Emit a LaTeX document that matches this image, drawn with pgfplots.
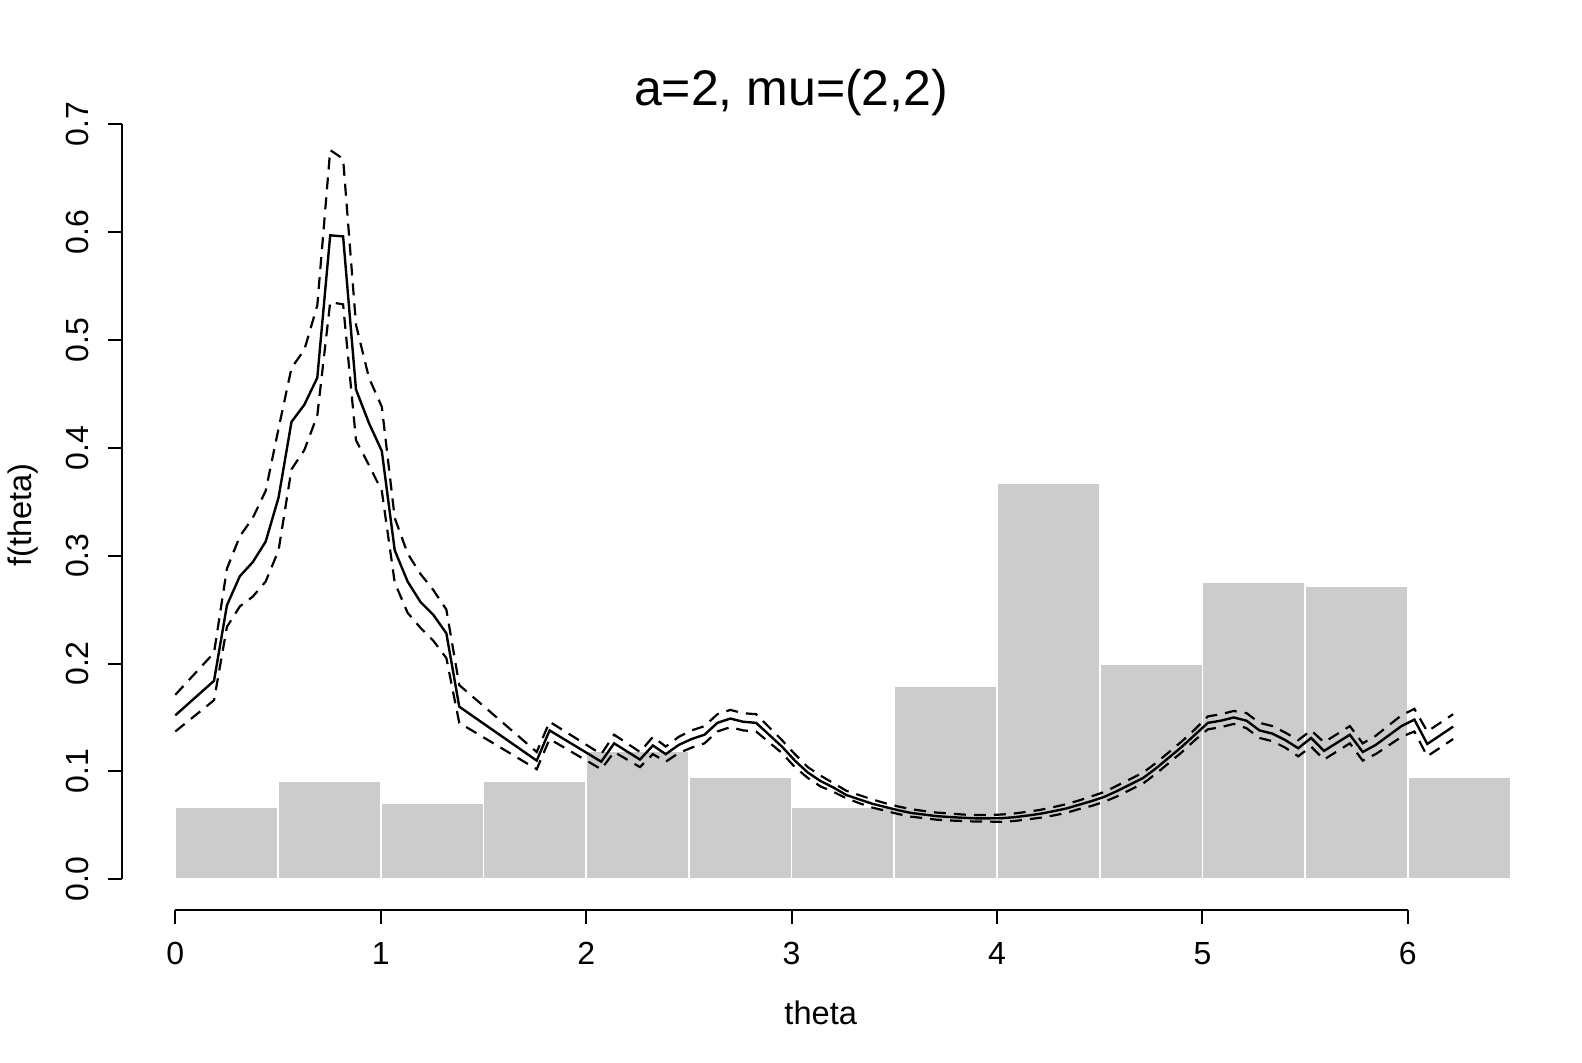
\documentclass[border=0pt]{standalone}
\usepackage{pgfplots}
\pgfplotsset{compat=1.18}
\usepackage{fontspec}
\setmainfont{Liberation Sans}
\definecolor{histgray}{HTML}{CCCCCC}
\begin{document}
\begin{tikzpicture}
\useasboundingbox (0,0) rectangle (791pt,531.5pt);
\begin{axis}[
  at={(60.85pt,76.5pt)}, anchor=south west,
  scale only axis, width=697.9pt, height=414.45pt,
  xmin=-0.261, xmax=6.534, ymin=-0.0285, ymax=0.74,
  clip=false,
  axis x line*=bottom, axis y line*=left,
  axis line style={draw=none,-},
  tick align=outside, major tick length=7pt,
  tick style={black, line width=1pt},
  xtick={0,1,2,3,4,5,6},
  ytick={0,0.1,0.2,0.3,0.4,0.5,0.6,0.7},
  /pgf/number format/assume math mode=true,
  every tick label/.append style={font=\fontsize{16}{19}\selectfont},
  xticklabel style={anchor=base},
  xticklabel shift=20.5pt,
  yticklabel style={rotate=90, anchor=base, /pgf/number format/.cd, fixed, fixed zerofill, precision=1},
  yticklabel shift=9.35pt,
  title={a=2, mu=(2,2)},
  title style={at={(axis description cs:0.4796,0.9555)}, anchor=base, font=\fontsize{25}{29}\selectfont},
  xlabel={theta},
  xlabel style={at={(axis description cs:0.5008,-0.1383)}, anchor=base, font=\fontsize{16.3}{19}\selectfont},
  ylabel={f(theta)},
  ylabel style={at={(axis description cs:-0.0645,0.4765)}, anchor=base, rotate=0, font=\fontsize{16.3}{19}\selectfont},
]
% histogram
\addplot[ybar interval, fill=histgray, draw=white, line width=0.8pt] coordinates {
(0,0.0668) (0.5,0.0906) (1,0.0709) (1.5,0.0906) (2,0.1187) (2.5,0.0946) (3,0.0666)
(3.5,0.1794) (4,0.3673) (4.5,0.199) (5,0.2757) (5.5,0.272) (6,0.0946) (6.5,0)
};
% estimate
\addplot[black, line width=1.2pt] coordinates {
(0,0.152) (0.1885,0.184) (0.2513,0.254) (0.3142,0.281) (0.3770,0.294) (0.4398,0.313)
(0.5027,0.354) (0.5655,0.424) (0.6283,0.440) (0.6912,0.465) (0.7540,0.597) (0.8168,0.596)
(0.8796,0.454) (0.9425,0.423) (1.0053,0.397) (1.0681,0.305) (1.1310,0.276) (1.1938,0.257)
(1.2566,0.245) (1.3195,0.228) (1.3823,0.160) (1.7593,0.110) (1.8221,0.138) (2.0735,0.109)
(2.1363,0.126) (2.2619,0.111) (2.3248,0.124) (2.3876,0.116) (2.4504,0.1245) (2.5133,0.130)
(2.5761,0.134) (2.6389,0.145) (2.7018,0.149) (2.7646,0.146) (2.8274,0.145) (2.8903,0.134)
(2.9531,0.123) (3.0159,0.110) (3.0788,0.099) (3.1416,0.091) (3.2044,0.085) (3.2673,0.078)
(3.3301,0.074) (3.3929,0.070) (3.4558,0.067) (3.5186,0.064) (3.5814,0.0615) (3.6442,0.060)
(3.7071,0.0585) (3.7699,0.0577) (3.8327,0.057) (3.8956,0.0565) (3.9584,0.0565) (4.0212,0.0566)
(4.0841,0.0575) (4.1469,0.059) (4.2097,0.0607) (4.2726,0.063) (4.3354,0.0655) (4.3982,0.069)
(4.4611,0.0725) (4.5239,0.0765) (4.5867,0.082) (4.6496,0.088) (4.7124,0.094) (4.7752,0.103)
(4.8381,0.113) (4.9009,0.123) (4.9637,0.134) (5.0265,0.145) (5.0894,0.147) (5.1522,0.150)
(5.2150,0.147) (5.2779,0.138) (5.3407,0.135) (5.4035,0.129) (5.4664,0.1215) (5.5292,0.131)
(5.5920,0.119) (5.7177,0.134) (5.7805,0.118) (5.8434,0.1245) (5.9690,0.142) (6.0319,0.148)
(6.0947,0.1254) (6.2204,0.1415)
};
% upper band
\addplot[black, line width=1.1pt, dash pattern=on 6pt off 4pt] coordinates {
(0,0.171) (0.1885,0.210) (0.2513,0.288) (0.3142,0.318) (0.3770,0.335) (0.4398,0.360)
(0.5027,0.418) (0.5655,0.474) (0.6283,0.491) (0.6912,0.532) (0.7540,0.676) (0.8168,0.668)
(0.8796,0.514) (0.9425,0.465) (1.0053,0.438) (1.0681,0.335) (1.1310,0.302) (1.1938,0.283)
(1.2566,0.268) (1.3195,0.250) (1.3823,0.180) (1.7593,0.118) (1.8221,0.146) (2.0735,0.116)
(2.1363,0.134) (2.2619,0.118) (2.3248,0.132) (2.3876,0.123) (2.4504,0.132) (2.5133,0.138)
(2.5761,0.142) (2.6389,0.153) (2.7018,0.157) (2.7646,0.154) (2.8274,0.153) (2.8903,0.141)
(2.9531,0.129) (3.0159,0.116) (3.0788,0.104) (3.1416,0.096) (3.2044,0.089) (3.2673,0.082)
(3.3301,0.078) (3.3929,0.074) (3.4558,0.0705) (3.5186,0.0675) (3.5814,0.065) (3.6442,0.0633)
(3.7071,0.0618) (3.7699,0.061) (3.8327,0.060) (3.8956,0.0595) (3.9584,0.0595) (4.0212,0.060)
(4.0841,0.061) (4.1469,0.0625) (4.2097,0.0643) (4.2726,0.0668) (4.3354,0.0695) (4.3982,0.073)
(4.4611,0.077) (4.5239,0.081) (4.5867,0.087) (4.6496,0.093) (4.7124,0.099) (4.7752,0.108)
(4.8381,0.118) (4.9009,0.128) (4.9637,0.139) (5.0265,0.151) (5.0894,0.153) (5.1522,0.156)
(5.2150,0.154) (5.2779,0.145) (5.3407,0.142) (5.4035,0.136) (5.4664,0.129) (5.5292,0.138)
(5.5920,0.127) (5.7177,0.142) (5.7805,0.126) (5.8434,0.133) (5.9690,0.152) (6.0319,0.158)
(6.0947,0.137) (6.2204,0.153)
};
% lower band
\addplot[black, line width=1.1pt, dash pattern=on 6pt off 4pt] coordinates {
(0,0.137) (0.1885,0.166) (0.2513,0.234) (0.3142,0.253) (0.3770,0.262) (0.4398,0.276)
(0.5027,0.305) (0.5655,0.380) (0.6283,0.398) (0.6912,0.430) (0.7540,0.535) (0.8168,0.533)
(0.8796,0.407) (0.9425,0.384) (1.0053,0.360) (1.0681,0.275) (1.1310,0.247) (1.1938,0.233)
(1.2566,0.221) (1.3195,0.205) (1.3823,0.145) (1.7593,0.102) (1.8221,0.130) (2.0735,0.102)
(2.1363,0.118) (2.2619,0.104) (2.3248,0.116) (2.3876,0.109) (2.4504,0.117) (2.5133,0.122)
(2.5761,0.126) (2.6389,0.137) (2.7018,0.141) (2.7646,0.138) (2.8274,0.137) (2.8903,0.127)
(2.9531,0.117) (3.0159,0.104) (3.0788,0.094) (3.1416,0.086) (3.2044,0.081) (3.2673,0.075)
(3.3301,0.0705) (3.3929,0.0665) (3.4558,0.0635) (3.5186,0.0605) (3.5814,0.058) (3.6442,0.0567)
(3.7071,0.0552) (3.7699,0.0545) (3.8327,0.054) (3.8956,0.0535) (3.9584,0.0535) (4.0212,0.0532)
(4.0841,0.054) (4.1469,0.0555) (4.2097,0.057) (4.2726,0.059) (4.3354,0.0615) (4.3982,0.065)
(4.4611,0.068) (4.5239,0.072) (4.5867,0.077) (4.6496,0.083) (4.7124,0.089) (4.7752,0.098)
(4.8381,0.108) (4.9009,0.118) (4.9637,0.129) (5.0265,0.139) (5.0894,0.141) (5.1522,0.144)
(5.2150,0.140) (5.2779,0.131) (5.3407,0.128) (5.4035,0.122) (5.4664,0.114) (5.5292,0.123)
(5.5920,0.111) (5.7177,0.126) (5.7805,0.110) (5.8434,0.116) (5.9690,0.132) (6.0319,0.137)
(6.0947,0.114) (6.2204,0.130)
};
% R-style axis lines
\draw[black, line width=1pt] (axis cs:0,-0.0285) -- (axis cs:6,-0.0285);
\draw[black, line width=1pt] (axis cs:-0.261,0) -- (axis cs:-0.261,0.7);
\end{axis}
\end{tikzpicture}
\end{document}
